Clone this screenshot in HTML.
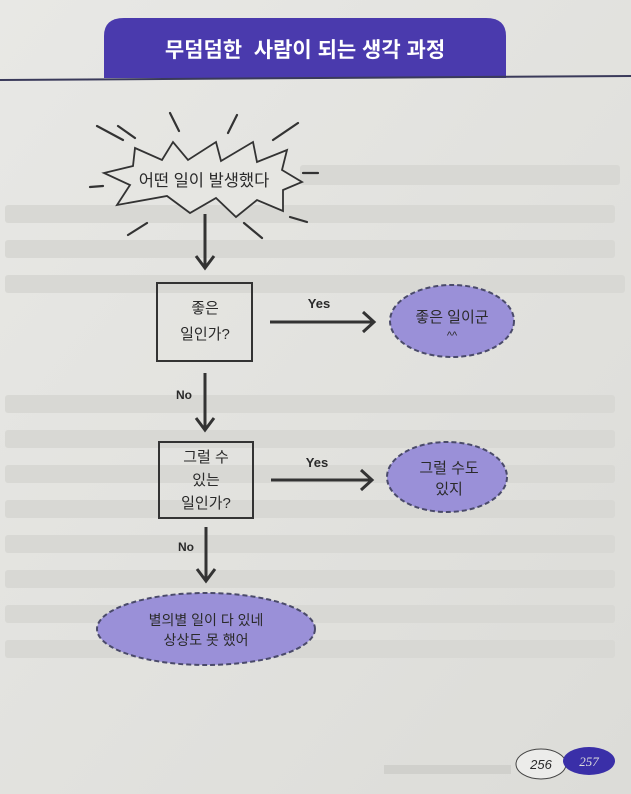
<!DOCTYPE html>
<html><head><meta charset="utf-8"><style>
body{margin:0;width:631px;height:794px;overflow:hidden;background:#e4e4e0;}
svg{display:block}
text{font-family:"Liberation Sans","Noto Sans CJK KR","NanumGothic",sans-serif;fill:#2a2a2a}
</style></head><body>
<svg width="631" height="794" viewBox="0 0 631 794">
<defs><linearGradient id="bg" x1="0" y1="0" x2="1" y2="1"><stop offset="0" stop-color="#e8e8e5"/><stop offset="1" stop-color="#dcdcd8"/></linearGradient></defs>
<rect width="631" height="794" fill="url(#bg)"/>
<g fill="#d8d8d4">
<rect x="300" y="165" width="320" height="20" rx="3"/>
<rect x="5" y="205" width="610" height="18" rx="3"/>
<rect x="5" y="240" width="610" height="18" rx="3"/>
<rect x="5" y="275" width="620" height="18" rx="3"/>
<rect x="5" y="395" width="610" height="18" rx="3"/>
<rect x="5" y="430" width="610" height="18" rx="3"/>
<rect x="5" y="465" width="610" height="18" rx="3"/>
<rect x="5" y="500" width="610" height="18" rx="3"/>
<rect x="5" y="535" width="610" height="18" rx="3"/>
<rect x="5" y="570" width="610" height="18" rx="3"/>
<rect x="5" y="605" width="610" height="18" rx="3"/>
<rect x="5" y="640" width="610" height="18" rx="3"/>
</g>
<!-- header -->
<path d="M104,78 L104,36 Q104,18 124,18 L486,18 Q506,18 506,36 L506,78 Z" fill="#4a3aad"/>
<line x1="0" y1="80" x2="631" y2="76" stroke="#3a3a5a" stroke-width="2"/>
<text x="305" y="57" text-anchor="middle" font-size="21" font-weight="bold" style="fill:#fff;white-space:pre">무덤덤한  사람이 되는 생각 과정</text>
<!-- starburst -->
<g stroke="#333" stroke-width="2.2" fill="none" stroke-linecap="round">
<polygon points="135,148 162,160 173,142 188,160 216,142 221,161 253,142 257,162 287,150 282,170 302,182 283,190 283,211 257,200 236,217 216,198 190,213 167,196 117,205 130,185 104,173 133,166" fill="#e6e6e2" stroke-width="1.8"/>
<line x1="97" y1="126" x2="123" y2="140"/><line x1="118" y1="126" x2="135" y2="138"/>
<line x1="170" y1="113" x2="179" y2="131"/><line x1="237" y1="115" x2="228" y2="133"/>
<line x1="298" y1="123" x2="273" y2="140"/><line x1="303" y1="173" x2="318" y2="173"/>
<line x1="90" y1="187" x2="103" y2="186"/><line x1="128" y1="235" x2="147" y2="223"/>
<line x1="244" y1="223" x2="262" y2="238"/><line x1="290" y1="217" x2="307" y2="222"/>
</g>
<text x="204" y="186" text-anchor="middle" font-size="16.5">어떤 일이 발생했다</text>
<!-- arrows -->
<g stroke="#333" stroke-width="3" fill="none">
<line x1="205" y1="214" x2="205" y2="267"/><polyline points="196,256 205,268 214,256"/>
<line x1="205" y1="373" x2="205" y2="429"/><polyline points="196,418 205,430 214,418"/>
<line x1="206" y1="527" x2="206" y2="580"/><polyline points="197,569 206,581 215,569"/>
<line x1="270" y1="322" x2="373" y2="322"/><polyline points="363,312 374,322 363,332"/>
<line x1="271" y1="480" x2="371" y2="480"/><polyline points="361,470 372,480 361,490"/>
</g>
<!-- boxes -->
<rect x="157" y="283" width="95" height="78" fill="none" stroke="#333" stroke-width="2"/>
<text x="205" y="313" text-anchor="middle" font-size="15">좋은</text>
<text x="205" y="339" text-anchor="middle" font-size="15">일인가?</text>
<rect x="159" y="442" width="94" height="76" fill="none" stroke="#333" stroke-width="2"/>
<text x="206" y="462" text-anchor="middle" font-size="15">그럴 수</text>
<text x="206" y="485" text-anchor="middle" font-size="15">있는</text>
<text x="206" y="508" text-anchor="middle" font-size="15">일인가?</text>
<text x="319" y="308" text-anchor="middle" font-size="13" font-weight="bold">Yes</text>
<text x="317" y="467" text-anchor="middle" font-size="13" font-weight="bold">Yes</text>
<text x="184" y="399" text-anchor="middle" font-size="12" font-weight="bold">No</text>
<text x="186" y="551" text-anchor="middle" font-size="12" font-weight="bold">No</text>
<!-- ellipses -->
<g fill="#9a90d8" stroke="#4a4a6a" stroke-width="2" stroke-dasharray="5,3">
<ellipse cx="452" cy="321" rx="62" ry="36"/>
<ellipse cx="447" cy="477" rx="60" ry="35"/>
<ellipse cx="206" cy="629" rx="109" ry="36"/>
</g>
<text x="452" y="322" text-anchor="middle" font-size="15">좋은 일이군</text>
<text x="452" y="339" text-anchor="middle" font-size="11">^^</text>
<text x="449" y="473" text-anchor="middle" font-size="15">그럴 수도</text>
<text x="449" y="494" text-anchor="middle" font-size="15">있지</text>
<text x="206" y="625" text-anchor="middle" font-size="14">별의별 일이 다 있네</text>
<text x="206" y="645" text-anchor="middle" font-size="14">상상도 못 했어</text>
<!-- page numbers -->
<rect x="384" y="765" width="127" height="9" fill="#d0d0cc"/>
<ellipse cx="541" cy="764" rx="25" ry="15" fill="#ececea" stroke="#444" stroke-width="1"/>
<text x="541" y="769" text-anchor="middle" font-size="13" font-style="italic" font-family="Liberation Serif">256</text>
<ellipse cx="589" cy="761" rx="26" ry="14" fill="#3a2fa8"/>
<text x="589" y="766" text-anchor="middle" font-size="13" font-style="italic" style="fill:#ddd;font-family:'Liberation Serif'">257</text>
</svg>
</body></html>
